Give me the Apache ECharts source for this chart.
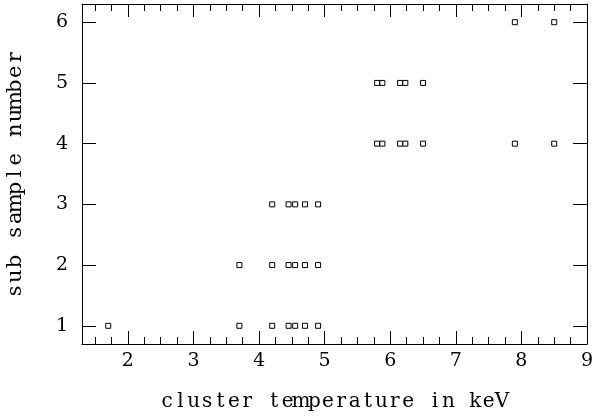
<!DOCTYPE html>
<html>
<head>
<meta charset="utf-8">
<script src="https://cdn.jsdelivr.net/npm/echarts@6/dist/echarts.min.js"></script>
<style>html,body{margin:0;padding:0;background:#fff}#c{width:594px;height:419px}</style>
</head>
<body>
<div id="c"></div>
<script>
// cluster temperature (keV) and sub sample number for each cluster
var temperatures = [1.7, 3.7, 4.2, 4.45, 4.55, 4.7, 4.9,
                    3.7, 4.2, 4.45, 4.55, 4.7, 4.9,
                    4.2, 4.45, 4.55, 4.7, 4.9,
                    5.8, 5.88, 6.15, 6.23, 6.5, 7.9, 8.5,
                    5.8, 5.88, 6.15, 6.23, 6.5,
                    7.9, 8.5];
var subSamples   = [1, 1, 1, 1, 1, 1, 1,
                    2, 2, 2, 2, 2, 2,
                    3, 3, 3, 3, 3,
                    4, 4, 4, 4, 4, 4, 4,
                    5, 5, 5, 5, 5,
                    6, 6];
var xTitle = 'cluster temperature in keV';
var yTitle = 'sub sample number';

var pts = temperatures.map(function (t, i) { return [t, subSamples[i]]; });
var font = 'DejaVu Serif';
// wide letter spacing like the original plotting font
function spaced(str, key) {
  return str.split('').map(function (ch) { return '{' + key + '|' + ch + '}'; }).join('');
}
var chart = echarts.init(document.getElementById('c'), null, {renderer: 'canvas'});
var axLine = {show: true, lineStyle: {color: '#000', width: 1}};
chart.setOption({
  animation: false,
  backgroundColor: '#fff',
  grid: {left: 82, right: 7, top: 4, bottom: 75, containLabel: false, outerBoundsMode: 'none'},
  xAxis: [{
    type: 'value', min: 1.3, max: 9, splitNumber: 8, position: 'bottom',
    axisLine: axLine,
    axisTick: {show: true, inside: true, length: 13, lineStyle: {color: '#000'}},
    minorTick: {show: true, splitNumber: 4, length: 7, lineStyle: {color: '#000'}},
    splitLine: {show: false},
    axisLabel: {show: true, color: '#000', fontFamily: font, fontSize: 19, margin: 8,
      showMinLabel: false, showMaxLabel: true},
    name: spaced(xTitle, 'tx'), nameLocation: 'middle', nameGap: 47,
    nameTextStyle: {color: '#000', fontFamily: font, fontSize: 20,
      rich: {tx: {width: 13.4, align: 'center', color: '#000', fontFamily: font, fontSize: 20, lineHeight: 22}}}
  }, {
    type: 'value', min: 1.3, max: 9, splitNumber: 8, position: 'top',
    axisLine: axLine,
    axisTick: {show: true, inside: true, length: 13, lineStyle: {color: '#000'}},
    minorTick: {show: true, splitNumber: 4, length: 7, lineStyle: {color: '#000'}},
    splitLine: {show: false},
    axisLabel: {show: false}
  }],
  yAxis: [{
    type: 'value', min: 0.7, max: 6.3, splitNumber: 6, position: 'left',
    axisLine: axLine,
    axisTick: {show: true, inside: true, length: 14, lineStyle: {color: '#000'}},
    splitLine: {show: false},
    axisLabel: {show: true, color: '#000', fontFamily: font, fontSize: 19, margin: 14,
      showMinLabel: false, showMaxLabel: false},
    name: spaced(yTitle, 'ty'), nameLocation: 'middle', nameGap: 55, nameRotate: 90,
    nameTextStyle: {color: '#000', fontFamily: font, fontSize: 21,
      rich: {ty: {width: 14.6, align: 'center', color: '#000', fontFamily: font, fontSize: 21, lineHeight: 22}}}
  }, {
    type: 'value', min: 0.7, max: 6.3, splitNumber: 6, position: 'right',
    axisLine: axLine,
    axisTick: {show: true, inside: true, length: 14, lineStyle: {color: '#000'}},
    splitLine: {show: false},
    axisLabel: {show: false}
  }],
  series: [{
    type: 'scatter', xAxisIndex: 0, yAxisIndex: 0,
    data: pts, symbol: 'rect', symbolSize: 5,
    itemStyle: {color: '#fff', borderColor: '#000', borderWidth: 1, opacity: 1}
  }]
});
</script>
</body>
</html>
